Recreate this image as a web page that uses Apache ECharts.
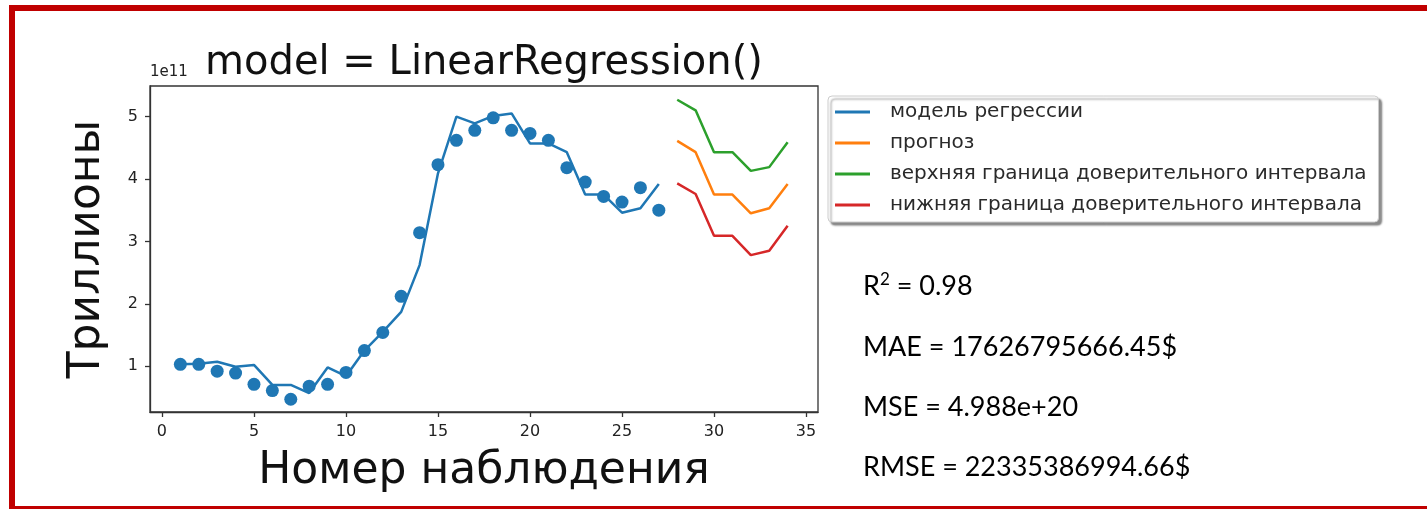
<!DOCTYPE html>
<html>
<head>
<meta charset="utf-8">
<script src="https://cdn.jsdelivr.net/npm/echarts@6/dist/echarts.min.js"></script>
<style>
  html, body { margin: 0; padding: 0; background: #ffffff; }
  #chart { width: 1427px; height: 509px; }
</style>
</head>
<body>
<div id="chart"></div>
<script>
// Observation numbers and values (in units of 1e11)
const obsX = [1, 2, 3, 4, 5, 6, 7, 8, 9, 10, 11, 12, 13, 14, 15, 16, 17, 18, 19, 20, 21, 22, 23, 24, 25, 26, 27];
const observed = [1.03, 1.03, 0.92, 0.89, 0.71, 0.61, 0.47, 0.68, 0.71, 0.90, 1.25, 1.54, 2.12, 3.14, 4.23, 4.62, 4.78, 4.98, 4.78, 4.73, 4.62, 4.18, 3.95, 3.72, 3.63, 3.86, 3.50];
const fitted = [1.03, 1.04, 1.07, 0.99, 1.02, 0.70, 0.70, 0.57, 0.98, 0.84, 1.25, 1.55, 1.87, 2.62, 4.09, 5.00, 4.89, 5.01, 5.05, 4.57, 4.57, 4.43, 3.75, 3.75, 3.46, 3.53, 3.92];

// Forecast horizon
const fcX = [28, 29, 30, 31, 32, 33, 34];
const forecast = [4.61, 4.43, 3.75, 3.75, 3.45, 3.53, 3.92];
const upperCI = [5.27, 5.10, 4.43, 4.43, 4.13, 4.19, 4.59];
const lowerCI = [3.93, 3.76, 3.09, 3.09, 2.78, 2.85, 3.25];

// Tick labels
const xTicks = [0, 5, 10, 15, 20, 25, 30, 35];
const yTicks = [1, 2, 3, 4, 5];

const seriesNames = ['модель регрессии', 'прогноз', 'верхняя граница доверительного интервала', 'нижняя граница доверительного интервала'];
const metrics = ['R{sup|2} = 0.98', 'MAE = 17626795666.45$', 'MSE = 4.988e+20', 'RMSE = 22335386994.66$'];

const pair = (xs, ys) => xs.map((x, i) => [x, ys[i]]);

const C_BLUE = '#1f77b4', C_ORANGE = '#ff7f0e', C_GREEN = '#2ca02c', C_RED = '#d62728';
const AXIS_COLOR = '#333333';
const MPL_FONT = 'DejaVu Sans';

const chart = echarts.init(document.getElementById('chart'), null, { renderer: 'canvas' });

const lineSeries = (name, xs, ys, color) => ({
  name, type: 'line', data: pair(xs, ys), showSymbol: false, symbol: 'none',
  lineStyle: { color, width: 2.5 }, itemStyle: { color }, z: 3, animation: false
});

chart.setOption({
  animation: false,
  backgroundColor: '#ffffff',
  grid: {
    left: 150, top: 86, width: 668, height: 326,
    show: true, borderColor: AXIS_COLOR, borderWidth: 1.3, backgroundColor: 'transparent'
  },
  xAxis: {
    type: 'value', min: -0.65, max: 35.65,
    name: 'Номер наблюдения', nameLocation: 'middle', nameGap: 38,
    nameTextStyle: { fontFamily: MPL_FONT, fontSize: 44, color: '#111' },
    splitLine: { show: false },
    axisLine: { show: true, onZero: false, lineStyle: { color: AXIS_COLOR, width: 1.3 } },
    axisTick: { show: true, length: 5, lineStyle: { color: AXIS_COLOR, width: 1.3 }, customValues: xTicks },
    axisLabel: { fontFamily: MPL_FONT, fontSize: 16, color: '#222', margin: 12, customValues: xTicks }
  },
  yAxis: {
    type: 'value', min: 0.266, max: 5.49,
    name: 'Триллионы', nameLocation: 'middle', nameGap: 40, nameRotate: 90,
    nameTextStyle: { fontFamily: MPL_FONT, fontSize: 44, color: '#111' },
    splitLine: { show: false },
    axisLine: { show: true, onZero: false, lineStyle: { color: AXIS_COLOR, width: 1.3 } },
    axisTick: { show: true, length: 5, lineStyle: { color: AXIS_COLOR, width: 1.3 }, customValues: yTicks },
    axisLabel: { fontFamily: MPL_FONT, fontSize: 16, color: '#222', margin: 12, customValues: yTicks }
  },
  legend: {
    data: seriesNames,
    orient: 'vertical', left: 828, top: 96,
    padding: [6, 12, 7, 7],
    icon: 'rect', itemWidth: 35, itemHeight: 3, itemGap: 11,
    textStyle: { fontFamily: MPL_FONT, fontSize: 20, color: '#2a2a2a', lineHeight: 20, padding: [0, 0, 0, 15] },
    backgroundColor: '#ffffff', borderColor: '#cccccc', borderWidth: 1, borderRadius: 4,
    shadowColor: 'rgba(0,0,0,0.45)', shadowBlur: 2, shadowOffsetX: 3, shadowOffsetY: 3,
    selectedMode: false
  },
  series: [
    {
      name: 'наблюдения', type: 'scatter', data: pair(obsX, observed),
      symbol: 'circle', symbolSize: 13, itemStyle: { color: C_BLUE, opacity: 1 }, z: 4
    },
    lineSeries(seriesNames[0], obsX, fitted, C_BLUE),
    lineSeries(seriesNames[1], fcX, forecast, C_ORANGE),
    lineSeries(seriesNames[2], fcX, upperCI, C_GREEN),
    lineSeries(seriesNames[3], fcX, lowerCI, C_RED)
  ],
  graphic: [
    // slide frame
    {
      type: 'rect', silent: true, z: 100,
      shape: { x: 12, y: 8, width: 1440, height: 501 },
      style: { fill: 'none', stroke: '#c00000', lineWidth: 6 }
    },
    // title
    {
      type: 'text', x: 484, y: 84, silent: true,
      style: { text: 'model = LinearRegression()', fontFamily: MPL_FONT, fontSize: 40, fill: '#111',
        align: 'center', verticalAlign: 'bottom' }
    },
    // axis offset text
    {
      type: 'text', x: 150, y: 80, silent: true,
      style: { text: '1e11', fontFamily: MPL_FONT, fontSize: 15, fill: '#222', align: 'left', verticalAlign: 'bottom' }
    },
    // regression metrics
    ...metrics.map((t, i) => ({
      type: 'text', x: 863, y: [286, 347, 407, 467][i], silent: true,
      style: {
        text: t, fontFamily: 'Lato', fontSize: 27, fill: '#000', align: 'left', verticalAlign: 'middle',
        rich: { sup: { fontFamily: 'Lato', fontSize: 17, fill: '#000', padding: [0, 0, 12, 0] } }
      }
    }))
  ]
});
</script>
</body>
</html>
